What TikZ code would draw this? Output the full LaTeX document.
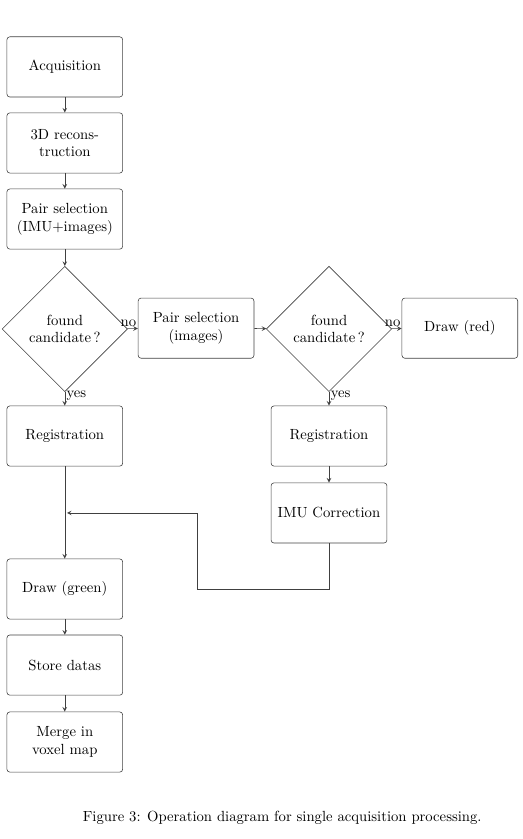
\documentclass[tikz,border=0pt]{standalone}
\usetikzlibrary{shapes.geometric}

\begin{document}
\begin{tikzpicture}[
  block/.style={draw=black!75, rounded corners=2pt, align=center, text width=2.5cm,
                minimum width=2.77cm, minimum height=1.44cm, inner sep=2pt},
  decision/.style={draw=black!75, diamond, aspect=1, align=center,
                   minimum width=3.0cm, minimum height=3.0cm, inner sep=0pt},
  flow/.style={->, >=stealth, draw=black!75, thin},
  lbl/.style={text=black, inner sep=1pt}
]
  \useasboundingbox (0,0) rectangle (12.49,-20.07);

  % Main column
  \node[block] (acq)   at (1.55,-1.60)  {Acquisition};
  \node[block] (recon) at (1.55,-3.42)  {3D recons-\\truction};
  \node[block] (pair)  at (1.55,-5.24)  {Pair selection\\(IMU+images)};
  \node[decision] (found1) at (1.55,-7.87) {found\\candidate\,?};
  \node[block] (reg1)  at (1.55,-10.43) {Registration};
  \node[block] (green) at (1.55,-14.09) {Draw (green)};
  \node[block] (store) at (1.55,-15.91) {Store datas};
  \node[block] (merge) at (1.55,-17.75) {Merge in\\voxel map};

  % Second branch
  \node[block] (pairimg) at (4.69,-7.85)  {Pair selection\\(images)};
  \node[decision] (found2) at (7.87,-7.87) {found\\candidate\,?};
  \node[block] (red)     at (11.00,-7.85) {Draw (red)};
  \node[block] (reg2)    at (7.87,-10.43) {Registration};
  \node[block] (imu)     at (7.87,-12.27) {IMU Correction};

  % Feedback points
  \coordinate (bend) at (4.71,-14.09);
  \coordinate (join) at (1.60,-12.27);

  % Arrows
  \draw[flow] (acq) -- (recon);
  \draw[flow] (recon) -- (pair);
  \draw[flow] (pair) -- (found1);
  \draw[flow] (found1) -- (pairimg) node[lbl, pos=0.1, above] {no};
  \draw[flow] (found1) -- (reg1) node[lbl, pos=0.3, right] {yes};
  \draw[flow] (pairimg) -- (found2);
  \draw[flow] (found2) -- (red) node[lbl, pos=0.1, above] {no};
  \draw[flow] (found2) -- (reg2) node[lbl, pos=0.3, right] {yes};
  \draw[flow] (reg2) -- (imu);
  \draw[flow] (reg1) -- (green);
  \draw[flow] (imu.south) |- (bend) |- (join);
  \draw[flow] (green) -- (store);
  \draw[flow] (store) -- (merge);

  % Caption
  \node (caption) at (6.75,-19.57) {Figure 3: Operation diagram for single acquisition processing.};
\end{tikzpicture}
\end{document}
